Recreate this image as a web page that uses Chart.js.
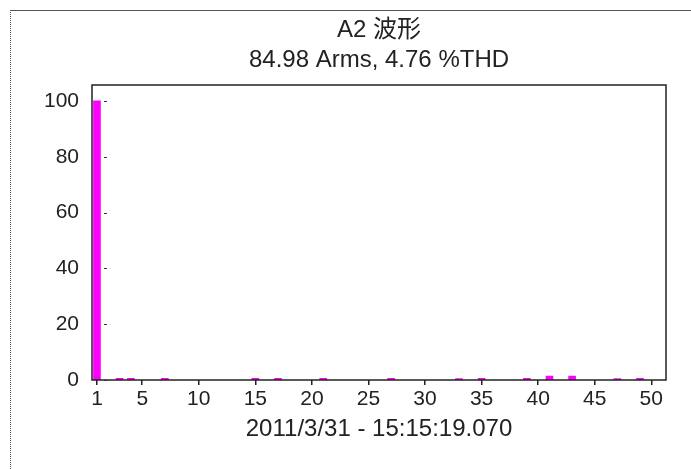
<!DOCTYPE html>
<html>
<head>
<meta charset="utf-8">
<script src="https://cdn.jsdelivr.net/npm/chart.js@4.4.1/dist/chart.umd.min.js"></script>
<style>
  body { margin: 0; background: #fff; }
  #wrap { position: relative; width: 691px; height: 469px; }
  #frame { position: absolute; left: 10px; top: 10px; right: 0; bottom: 0;
           border-top: 1px solid #555; border-left: 1px dotted #555; pointer-events: none; }
</style>
</head>
<body>
<div id="wrap">
  <canvas id="harmChart" width="691" height="469"></canvas>
  <div id="frame"></div>
</div>
<script>
// harmonic orders and their level (% of fundamental)
const harmonics = [1, 3, 4, 7, 15, 17, 21, 27, 33, 35, 39, 41, 43, 47, 49];
const levels    = [100, 0.6, 0.6, 0.6, 0.6, 0.6, 0.6, 0.6, 0.5, 0.6, 0.6, 1.4, 1.4, 0.5, 0.6];
const xTicks = [1, 5, 10, 15, 20, 25, 30, 35, 40, 45, 50];
const yTicks = [0, 20, 40, 60, 80, 100];
const titleLines = ['A2 波形', '84.98 Arms, 4.76 %THD'];
const timeLabel = '2011/3/31 - 15:15:19.070';

const FONT = "'Liberation Sans', Arial, 'Noto Sans CJK SC', sans-serif";
const INK = '#222';

// plot frame + little inner dashes on the y axis
const plotFrame = {
    id: 'plotFrame',
    afterDatasetsDraw(chart) {
        const { ctx, chartArea: a } = chart;
        const y = chart.scales.y;
        ctx.save();
        ctx.strokeStyle = INK;
        ctx.lineWidth = 1.5;
        ctx.strokeRect(a.left, a.top, a.right - a.left, a.bottom - a.top);
        ctx.lineWidth = 1;
        ctx.strokeStyle = '#333';
        yTicks.forEach(v => {
            const py = Math.round(y.getPixelForValue(v)) + 0.5;
            ctx.beginPath();
            ctx.moveTo(a.left + 12, py);
            ctx.lineTo(a.left + 15, py);
            ctx.stroke();
        });
        ctx.restore();
    }
};

function buildChart() {
    const ctx = document.getElementById('harmChart').getContext('2d');
    new Chart(ctx, {
        type: 'bar',
        data: {
            datasets: [{
                data: harmonics.map((h, i) => ({ x: h, y: levels[i] })),
                backgroundColor: '#ff00ff',
                borderWidth: 0,
                barThickness: 7,
                xAxisID: 'x'
            }]
        },
        options: {
            responsive: false,
            animation: false,
            layout: { padding: { left: 0, right: 25, top: 0, bottom: 0 } },
            plugins: { legend: { display: false }, tooltip: { enabled: false } },
            scales: {
                x: {
                    type: 'linear',
                    position: 'bottom',
                    min: 0.56,
                    max: 51.3,
                    offset: false,
                    afterBuildTicks: s => { s.ticks = xTicks.map(v => ({ value: v })); },
                    afterFit: s => { s.height = 89; },
                    grid: { display: true, drawOnChartArea: false, drawTicks: true,
                            tickLength: 5, color: INK, lineWidth: 1.5, offset: false },
                    border: { display: false },
                    ticks: { color: INK, padding: 2, maxRotation: 0, autoSkip: false,
                             font: { family: FONT, size: 21 } },
                    title: { display: true, text: timeLabel, color: INK,
                             padding: { top: 0, bottom: 25 },
                             font: { family: FONT, size: 24 } }
                },
                xTop: {
                    type: 'linear',
                    position: 'top',
                    afterFit: s => { s.height = 85; },
                    grid: { display: false },
                    border: { display: false },
                    ticks: { display: false },
                    title: { display: true, text: titleLines, color: INK,
                             padding: { top: 15, bottom: 0 },
                             font: { family: FONT, size: 24, lineHeight: 1.25 } }
                },
                y: {
                    min: 0,
                    max: 105.7,
                    afterBuildTicks: s => { s.ticks = yTicks.map(v => ({ value: v })); },
                    afterFit: s => { s.width = 92; },
                    grid: { display: false, drawTicks: false },
                    border: { display: false },
                    ticks: { color: INK, padding: 13, font: { family: FONT, size: 21 } }
                }
            }
        },
        plugins: [plotFrame]
    });
}

buildChart();
</script>
</body>
</html>
